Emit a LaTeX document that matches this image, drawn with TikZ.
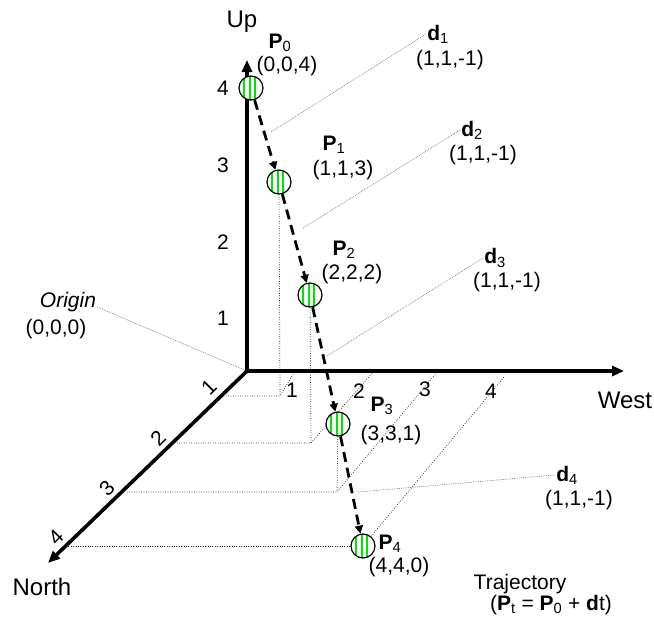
\documentclass[tikz,border=0pt]{standalone}
\usepackage{fontspec}
\setmainfont{Liberation Sans}
\usetikzlibrary{arrows.meta,calc,backgrounds}

\definecolor{stripegreen}{RGB}{0,230,0}

\begin{document}
\begin{tikzpicture}[
  x=1pt, y=-1pt,
  font=\fontsize{21}{25}\selectfont,
  >={Triangle[length=12pt,width=10pt]},
  every node/.style={inner sep=1pt},
  axis/.style={line width=3.6pt},
  axlbl/.style={font=\fontsize{24}{28}\selectfont},
  traj/.style={line width=2.8pt, dash pattern=on 10pt off 6pt, -{Triangle[length=8pt,width=8pt]}},
  grid/.style={line width=0.7pt, draw=black!85, dash pattern=on 0.8pt off 1.6pt},
  callout/.style={line width=0.7pt, draw=black!50, dash pattern=on 0.8pt off 1pt},
  ptmark/.style={circle, draw, line width=1.2pt, fill=white, minimum size=24pt, inner sep=0pt,
    path picture={\foreach \dx in {-7,-1.5,4}
      \draw[stripegreen, line width=2pt] ([xshift=\dx pt]path picture bounding box.north)
        -- ([xshift=\dx pt]path picture bounding box.south);}},
]
\useasboundingbox (0,0) rectangle (654,622);

% ---- axes ----
\coordinate (O) at (247,371);
\coordinate (Utip) at (247,60);
\coordinate (Wtip) at (624,371);
\coordinate (Ntip) at (48,563);
\draw[axis, <->] (Utip) -- (O) -- (Wtip);
\draw[axis, ->] (O) -- (Ntip);

\node[axlbl] (up) at (242,22) {Up};
\node[axlbl] (west) at (625,400) {West};
\node[axlbl] (north) at (42,587) {North};

% tick numbers
\foreach \v/\y in {1/318,2/242,3/165,4/88}
  \node (u\v) at (223,\y) {\v};
\foreach \v/\x/\y in {1/292/390,2/359/391,3/425/389,4/491/391}
  \node (w\v) at (\x,\y) {\v};
\foreach \v/\x/\y in {1/209/387,2/158/438,3/107/488,4/56/537}
  \node[rotate=45] (n\v) at (\x,\y) {\v};

% ---- trajectory points ----
\foreach \i/\x/\y in {0/251/88,1/279/182,2/310/295,3/338/424,4/363/546}
  \node[ptmark] (P\i) at (\x,\y) {};
\foreach \i/\j in {0/1,1/2,2/3,3/4}
  \draw[traj] (P\i) -- (P\j);

\foreach \i/\nx/\ny/\cx/\cy/\c in {0/280/43/287/66/{0,0,4}, 1/334/145/343/170/{1,1,3},
    2/344/250/352/274/{2,2,2}, 3/382/406/391/435/{3,3,1}, 4/390/544/399/567/{4,4,0}}{
  \node (lblP\i) at (\nx,\ny) {\textbf{P}\textsubscript{\i}};
  \node (posP\i) at (\cx,\cy) {(\c)};
}

% ---- floor grid and drop lines ----
\coordinate (N1) at (221,396); \coordinate (F1) at (280,396); \coordinate (W1) at (295,371);
\coordinate (N2) at (172,443); \coordinate (F2) at (311,443); \coordinate (W2) at (374,371);
\coordinate (N3) at (122,492); \coordinate (F3) at (337,492); \coordinate (W3) at (438,371);
\coordinate (N4) at (66,546);                                 \coordinate (W4) at (504,377);
\begin{scope}[on background layer]
  \foreach \i in {1,2,3}{
    \draw[grid] (N\i) -- (F\i) -- (W\i);
    \draw[grid] (P\i) -- (F\i);
  }
  \draw[grid] (N4) -- (P4);
  \draw[grid] (P4) -- (W4);
\end{scope}

% ---- direction vectors ----
\foreach \i/\nx/\ny/\cx/\cy/\sx/\sy in {1/438/34/450/60/271/132, 2/472/130/483/155/303/228,
    3/495/258/507/282/327/356, 4/567/475/579/500/358/492}{
  \node (lblD\i) at (\nx,\ny) {\textbf{d}\textsubscript{\i}};
  \node (valD\i) at (\cx,\cy) {(1,1,-1)};
  \coordinate (srcD\i) at (\sx,\sy);
  \begin{scope}[on background layer]
    \draw[callout] (srcD\i) -- (lblD\i.west);
  \end{scope}
}

% ---- origin ----
\node[font=\fontsize{21}{25}\selectfont\itshape] (lblO) at (68,302) {Origin};
\node (posO) at (56,329) {(0,0,0)};
\begin{scope}[on background layer]
  \draw[callout] ([yshift=-5pt]lblO.east) -- (O);
\end{scope}

% ---- trajectory equation ----
\node (trajT) at (520,584) {Trajectory};
\node (trajEq) at (551,605) {(\textbf{P}\textsubscript{t} = \textbf{P}\textsubscript{0} + \textbf{d}t)};
\end{tikzpicture}
\end{document}
